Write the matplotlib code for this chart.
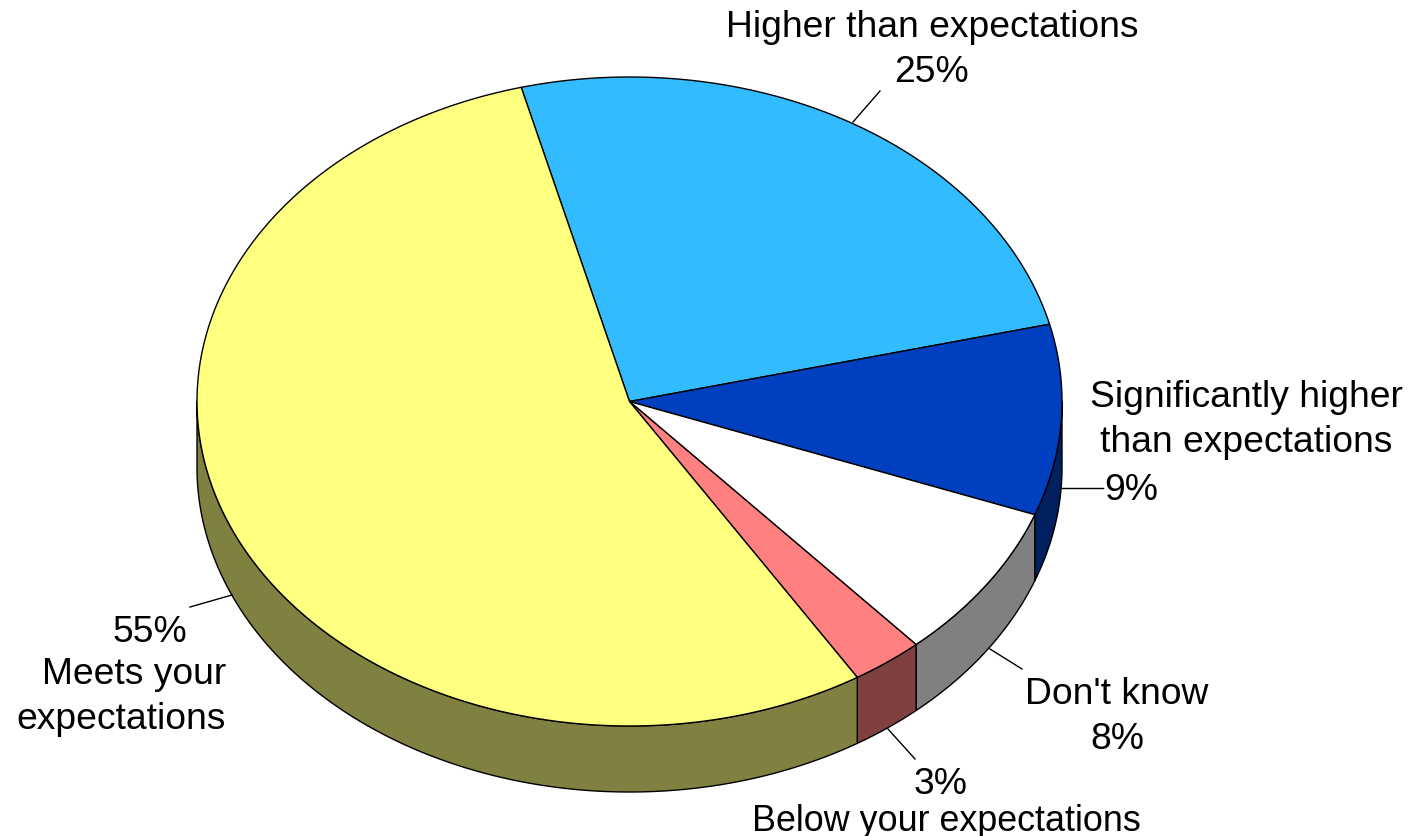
import numpy as np
import matplotlib
matplotlib.use("Agg")
import matplotlib.pyplot as plt

# slices clockwise from the top left, sizes
labels = ["Higher than expectations", "Significantly higher\nthan expectations", "Don't know",
          "Below your expectations", "Meets your\nexpectations"]
values = [25.2, 9.5, 7.8, 2.7, 54.8]
percents = ["25%", "9%", "8%", "3%", "55%"]
colors = ["#33BBFF", "#0040C0", "#FFFFFF", "#FF8080", "#FFFF80"]
side_colors = ["#1A5E80", "#002060", "#808080", "#804040", "#808040"]

W, H = 1419, 837
cx, cy, rx, ry = 629.5, 402.5, 432.5, 324.5
depth = 66
start = 104.5

plt.rcParams['font.family'] = ['Liberation Sans', 'DejaVu Sans']
fig = plt.figure(figsize=(W / 100, H / 100), dpi=100)
ax = fig.add_axes([0, 0, 1, 1])
ax.set_xlim(0, W)
ax.set_ylim(H, 0)
ax.axis('off')


def arc(a0, a1, dy=0):
    t = np.radians(np.linspace(a0, a1, 200))
    return cx + rx * np.cos(t), cy - ry * np.sin(t) + dy


edges = start - np.cumsum([0] + values) * 3.6

# side wall, only the part of the rim facing the viewer
for i in range(len(values)):
    a0, a1 = edges[i], edges[i + 1]
    lo, hi = max(a1, -180), min(a0, 0)
    if lo >= hi:
        continue
    x, y = arc(hi, lo)
    xs = np.r_[x, x[::-1]]
    ys = np.r_[y, y[::-1] + depth]
    ax.fill(xs, ys, facecolor=side_colors[i], edgecolor='black', lw=1, zorder=1)

# top of the pie
for i in range(len(values)):
    x, y = arc(edges[i], edges[i + 1])
    ax.fill(np.r_[cx, x], np.r_[cy, y], facecolor=colors[i], edgecolor='black', lw=1, zorder=2)

fs = 26.8
ls = 1.36
ax.text(932, 50, labels[0] + "\n" + percents[0], ha='center', va='center', fontsize=fs, linespacing=ls)
ax.text(1246, 420, labels[1], ha='center', va='center', fontsize=fs, linespacing=ls)
ax.text(1131, 491, percents[1], ha='center', va='center', fontsize=fs)
ax.text(1117, 717, labels[2] + "\n" + percents[2], ha='center', va='center', fontsize=fs, linespacing=ls)
ax.text(941, 785, percents[3], ha='center', va='center', fontsize=fs)
ax.text(946, 822, labels[3], ha='center', va='center', fontsize=25.8)
ax.text(150, 633, percents[4], ha='center', va='center', fontsize=fs)
ax.text(226, 697, labels[4], ha='right', va='center', fontsize=fs, linespacing=ls)

# leader lines
ax.plot([853, 880], [123, 92], color='black', lw=1)
ax.plot([1062, 1103], [489, 489], color='black', lw=1)
ax.plot([990, 1022], [650, 670], color='black', lw=1)
ax.plot([888, 915], [730, 760], color='black', lw=1)
ax.plot([232, 190], [596, 608], color='black', lw=1)

fig.savefig("out.png", dpi=100)
